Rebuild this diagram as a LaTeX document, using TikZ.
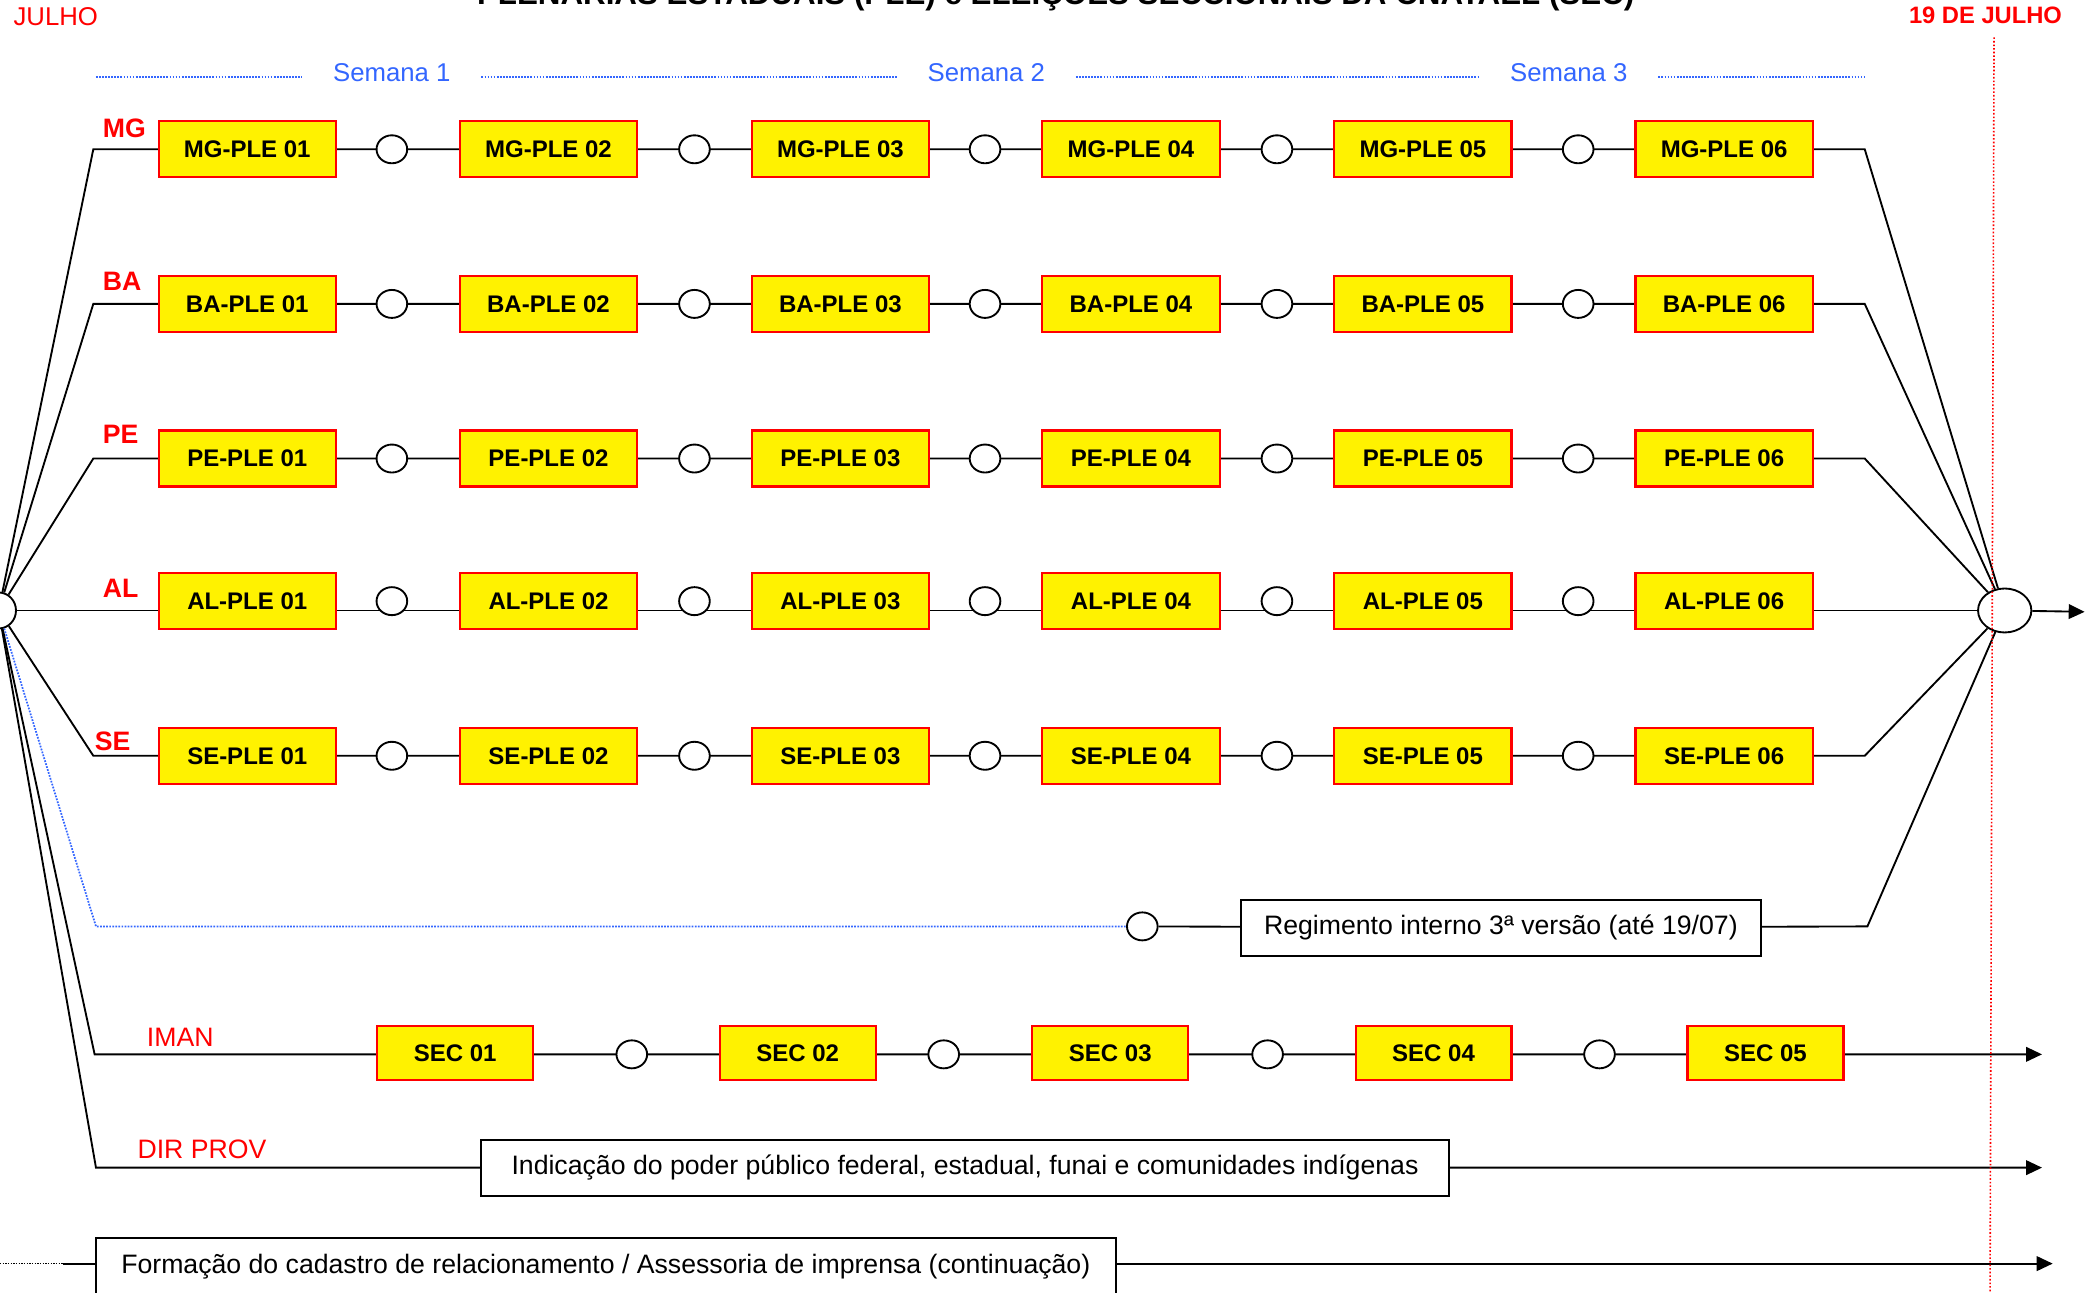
\documentclass[tikz,border=0pt]{standalone}
\usepackage{fontspec}
\setmainfont{Liberation Sans}
\usepackage{tikz}
\usetikzlibrary{shapes, arrows.meta, positioning}

\definecolor{weekblue}{RGB}{51,102,255}

\begin{document}
\begin{tikzpicture}[
  x=1pt, y=-1pt,
  every node/.style={font=\fontsize{20}{22}\selectfont, align=center},
  link/.style={draw, line width=1.4pt},
  arrow link/.style={link, -{Triangle[length=12pt, width=11pt]}},
  ple/.style={rectangle, draw=red, line width=1.6pt, fill=yellow, inner sep=0pt,
    minimum width=133pt, minimum height=42pt, font=\fontsize{18}{20}\selectfont\bfseries},
  sec/.style={ple, minimum width=117pt, minimum height=40pt},
  milestone/.style={ellipse, draw, line width=1.4pt, fill=white, inner sep=0pt,
    minimum width=23pt, minimum height=21pt},
  hub/.style={milestone},
  task/.style={rectangle, draw, line width=1.4pt, fill=white, inner sep=0pt, minimum height=42pt},
  state label/.style={anchor=base west, inner sep=0pt, text=red, font=\fontsize{20}{22}\selectfont\bfseries},
  group label/.style={anchor=base west, inner sep=0pt, text=red},
  week/.style={anchor=base, inner ysep=0pt, inner xsep=23pt, text=weekblue, font=\fontsize{19.3}{21}\selectfont},
  week line/.style={draw=weekblue, line width=1.3pt, dash pattern=on 1.3pt off 1pt}
]

\useasboundingbox (0,0) rectangle (1568,970);
\clip (0,0) rectangle (1568,970);

% header
\node[anchor=base, inner sep=0pt, font=\fontsize{23.5}{26}\selectfont\bfseries] (title) at (792,3)
  {PLENÁRIAS ESTADUAIS (PLE) e ELEIÇÕES SECCIONAIS DA CNATAEL (SEC)};
\node[group label, font=\fontsize{19.3}{21}\selectfont] (month) at (10,19) {JULHO};
\node[group label, font=\fontsize{17.8}{20}\selectfont\bfseries] (deadline) at (1432,18) {19 DE JULHO};

\node[week] (week1) at (294,61.3) {Semana 1};
\node[week] (week2) at (740,61.3) {Semana 2};
\node[week] (week3) at (1177,61.3) {Semana 3};
\coordinate (week start) at (72,57.5);
\coordinate (week end) at (1399,57.5);
\draw[week line] (week start) -- (week1.west |- week start);
\draw[week line] (week1.east |- week start) -- (week2.west |- week start);
\draw[week line] (week2.east |- week start) -- (week3.west |- week start);
\draw[week line] (week3.east |- week start) -- (week end);

% hubs
\node[hub, minimum width=26pt, minimum height=27pt] (start) at (-1,458) {};
\node[hub, minimum width=40pt, minimum height=33pt] (end) at (1504,458) {};
\coordinate (finish) at (1564,459);
\draw[arrow link] (end) -- (finish);

% plenarias estaduais
\foreach \st/\y/\ly/\lx/\by in {MG/112/112/77/103, BA/228/228/77/218, PE/344/344/77/333,
                                AL/451/458/77/448, SE/567/567/71/563}{
  \coordinate (\st in) at (70,\ly);
  \coordinate (\st out) at (1399,\ly);
  \draw[link] (start) -- (\st in) -- (\st out) -- (end);
  \node[state label] (\st label) at (\lx,\by) {\st};
  \foreach \i/\x in {1/185.5, 2/411.5, 3/630.5, 4/848.5, 5/1067.5, 6/1293.5}
    \node[ple] (\st box\i) at (\x,\y) {\st-PLE 0\i};
  \foreach \i/\x in {1/294, 2/521, 3/739, 4/958, 5/1184}
    \node[milestone] (\st mark\i) at (\x,\y) {};
}

% regimento
\coordinate (rules in) at (72,695);
\coordinate (rules out) at (1401,695);
\node[milestone] (rules mark) at (857,695) {};
\node[task, minimum width=390pt] (rules) at (1126,696) {Regimento interno 3ª versão (até 19/07)};
\draw[week line] (start) -- (rules in) -- (rules mark);
\draw[link] (rules mark) -- (rules) -- (rules out) -- (end);

% seccionais
\coordinate (iman in) at (71,791);
\coordinate (iman out) at (1532,791);
\draw[arrow link] (start) -- (iman in) -- (iman out);
\node[group label] (iman label) at (110,785) {IMAN};
\foreach \i/\x in {1/341.5, 2/598.5, 3/833, 4/1075.5, 5/1324.5}
  \node[sec] (sec\i) at (\x,790) {SEC 0\i};
\foreach \i/\x in {1/474, 2/708, 3/951, 4/1200}
  \node[milestone] (sec mark\i) at (\x,791) {};

% diretoria provisoria
\coordinate (board in) at (72,876);
\coordinate (board out) at (1532,876);
\draw[arrow link] (start) -- (board in) -- (board out);
\node[group label] (board label) at (103,869.5) {DIR PROV};
\node[task, minimum width=726pt] (board) at (724,876)
  {Indicação do poder público federal, estadual, funai e comunidades indígenas};

% cadastro
\coordinate (press in) at (0,948);
\coordinate (press mid) at (47,948);
\coordinate (press out) at (1540,948);
\draw[line width=1pt, dash pattern=on 1pt off 1pt] (press in) -- (press mid);
\draw[arrow link] (press mid) -- (press out);
\node[task, minimum width=765pt] (press) at (454.5,950)
  {Formação do cadastro de relacionamento / Assessoria de imprensa (continuação)};

% 19 de julho
\coordinate (deadline top) at (1496,28);
\coordinate (deadline bottom) at (1493,970);
\draw[red, line width=1.2pt, dash pattern=on 1.2pt off 1.5pt] (deadline top) -- (deadline bottom);

\end{tikzpicture}
\end{document}
